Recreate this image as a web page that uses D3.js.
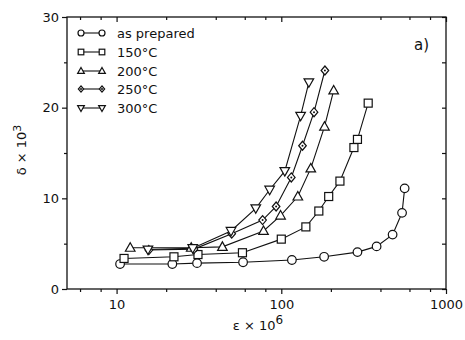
<!DOCTYPE html>
<html>
<head>
<meta charset="utf-8">
<script src="https://cdn.jsdelivr.net/npm/d3@7/dist/d3.min.js"></script>
<style>
  html, body { margin: 0; padding: 0; background: #fff; }
  svg { display: block; font-family: "DejaVu Sans", sans-serif; }
</style>
</head>
<body>
<svg id="chart" width="465" height="340"></svg>
<script>
// ---- data ----
const seriesNames = ["as prepared", "150\u00B0C", "200\u00B0C", "250\u00B0C", "300\u00B0C"];
const seriesSymbols = ["circle", "square", "triangle", "diamond", "triangleDown"];

const asPreparedX = [10.5, 21.8, 30.8, 58.6, 116, 182, 290, 379, 474, 541, 561];
const asPreparedY = [2.75, 2.75, 2.85, 2.95, 3.2, 3.55, 4.07, 4.7, 6.0, 8.4, 11.1];

const t150X = [11.1, 22.3, 31.2, 58.1, 100, 141, 169, 194, 227, 276, 290, 337];
const t150Y = [3.37, 3.55, 3.8, 4.0, 5.5, 6.85, 8.6, 10.2, 11.9, 15.6, 16.5, 20.5];

const t200X = [12.1, 28.4, 43.9, 78, 99, 126, 151, 183, 208];
const t200Y = [4.55, 4.55, 4.65, 6.4, 8.1, 10.2, 13.3, 17.9, 21.9];

const t250X = [15.7, 29.5, 50, 77, 93, 115, 134.5, 158, 184];
const t250Y = [4.3, 4.4, 6.1, 7.6, 9.1, 12.3, 15.8, 19.5, 24.1];

const t300X = [15.5, 29, 49.5, 70, 85, 105, 131, 147];
const t300Y = [4.35, 4.5, 6.4, 8.9, 10.95, 13.0, 19.1, 22.8];

const xMajorTicks = [10, 100, 1000];
const xMinorTicks = [6, 8, 20, 40, 60, 80, 200, 400, 600, 800];
const yMajorTicks = [0, 10, 20, 30];
const yMinorTicks = [5, 15, 25];

const seriesX = [asPreparedX, t150X, t200X, t250X, t300X];
const seriesY = [asPreparedY, t150Y, t200Y, t250Y, t300Y];

// ---- layout ----
const svg = d3.select("#chart");
const L = 67, R = 446, T = 17, B = 289;
const x = d3.scaleLog().domain([5, 1000]).range([L, R]);
const y = d3.scaleLinear().domain([0, 30]).range([B, T]);

const ink = "#111";

const fmt = d => String(d);
svg.append("g").attr("transform", `translate(0,${B})`)
  .call(d3.axisBottom(x).tickValues(xMajorTicks).tickFormat(fmt).tickSize(5).tickPadding(6))
  .call(g => g.select(".domain").remove());
svg.append("g").attr("transform", `translate(0,${B})`)
  .call(d3.axisBottom(x).tickValues(xMinorTicks).tickFormat("").tickSize(3))
  .call(g => g.select(".domain").remove());
svg.append("g").attr("transform", `translate(0,${T})`)
  .call(d3.axisBottom(x).tickValues(xMajorTicks).tickFormat("").tickSize(5))
  .call(g => g.select(".domain").remove());
svg.append("g").attr("transform", `translate(0,${T})`)
  .call(d3.axisBottom(x).tickValues(xMinorTicks).tickFormat("").tickSize(3))
  .call(g => g.select(".domain").remove());

svg.append("g").attr("transform", `translate(${L},0)`)
  .call(d3.axisLeft(y).tickValues(yMajorTicks).tickFormat(fmt).tickSize(5).tickPadding(3))
  .call(g => g.select(".domain").remove());
svg.append("g").attr("transform", `translate(${L},0)`)
  .call(d3.axisLeft(y).tickValues(yMinorTicks).tickFormat("").tickSize(3))
  .call(g => g.select(".domain").remove());
svg.append("g").attr("transform", `translate(${R},0)`)
  .call(d3.axisLeft(y).tickValues(yMajorTicks.concat(yMinorTicks)).tickFormat("").tickSize(4))
  .call(g => g.select(".domain").remove());

svg.selectAll(".tick line").attr("stroke", ink).attr("stroke-width", 1.2);
svg.selectAll(".tick text").attr("fill", ink).attr("font-size", 13)
  .attr("font-family", "DejaVu Sans, sans-serif");

// frame
svg.append("rect").attr("x", L).attr("y", T).attr("width", R - L).attr("height", B - T)
  .attr("fill", "none").attr("stroke", ink).attr("stroke-width", 1.3);

// symbols
function drawSymbol(g, type, cx, cy, s) {
  s = s || 1;
  const sw = 1.2;
  if (type === "circle") {
    g.append("circle").attr("cx", cx).attr("cy", cy).attr("r", 4.3 * s)
      .attr("fill", "#fff").attr("stroke", ink).attr("stroke-width", sw);
  } else if (type === "square") {
    g.append("rect").attr("x", cx - 4 * s).attr("y", cy - 4 * s).attr("width", 8 * s).attr("height", 8 * s)
      .attr("fill", "#fff").attr("stroke", ink).attr("stroke-width", sw);
  } else if (type === "triangle") {
    g.append("path").attr("d", `M${cx},${cy - 5 * s}L${cx + 4.8 * s},${cy + 3.5 * s}L${cx - 4.8 * s},${cy + 3.5 * s}Z`)
      .attr("fill", "#fff").attr("stroke", ink).attr("stroke-width", sw);
  } else if (type === "diamond") {
    g.append("path").attr("d", `M${cx},${cy - 4.5 * s}L${cx + 3.8 * s},${cy}L${cx},${cy + 4.5 * s}L${cx - 3.8 * s},${cy}Z`)
      .attr("fill", "#fff").attr("stroke", ink).attr("stroke-width", sw);
    g.append("circle").attr("cx", cx).attr("cy", cy).attr("r", 1).attr("fill", ink);
  } else if (type === "triangleDown") {
    g.append("path").attr("d", `M${cx},${cy + 5 * s}L${cx + 4.8 * s},${cy - 3.5 * s}L${cx - 4.8 * s},${cy - 3.5 * s}Z`)
      .attr("fill", "#fff").attr("stroke", ink).attr("stroke-width", sw);
  }
}

const line = d3.line().x(d => x(d[0])).y(d => y(d[1]));
seriesNames.forEach((name, i) => {
  const pts = seriesX[i].map((v, j) => [v, seriesY[i][j]]);
  svg.append("path").datum(pts).attr("d", line)
    .attr("fill", "none").attr("stroke", ink).attr("stroke-width", 1.1);
});
seriesNames.forEach((name, i) => {
  const g = svg.append("g");
  seriesX[i].forEach((v, j) => drawSymbol(g, seriesSymbols[i], x(v), y(seriesY[i][j])));
});

// legend
const legRows = [33, 52, 71, 89, 108];
seriesNames.forEach((name, i) => {
  const g = svg.append("g");
  const yy = legRows[i];
  g.append("line").attr("x1", 80).attr("x2", 102).attr("y1", yy).attr("y2", yy)
    .attr("stroke", ink).attr("stroke-width", 1.1);
  drawSymbol(g, seriesSymbols[i], 81, yy, 0.7);
  drawSymbol(g, seriesSymbols[i], 102, yy, 0.7);
  g.append("text").attr("x", 117).attr("y", yy + 4.5).attr("font-size", 13)
    .attr("fill", ink).text(name);
});

// panel label
svg.append("text").attr("x", 414).attr("y", 50).attr("font-size", 15).attr("fill", ink).text("a)");

// axis titles
const yt = svg.append("text").attr("transform", "translate(26,150) rotate(-90)")
  .attr("text-anchor", "middle").attr("font-size", 13).attr("fill", ink);
yt.append("tspan").text("\u03B4 \u00D7 10");
yt.append("tspan").attr("dy", -5).attr("font-size", 11).text("3");

const xt = svg.append("text").attr("x", 258).attr("y", 330)
  .attr("text-anchor", "middle").attr("font-size", 13).attr("fill", ink);
xt.append("tspan").text("\u03B5 \u00D7 10");
xt.append("tspan").attr("dy", -6).attr("font-size", 12).text("6");
</script>
</body>
</html>
